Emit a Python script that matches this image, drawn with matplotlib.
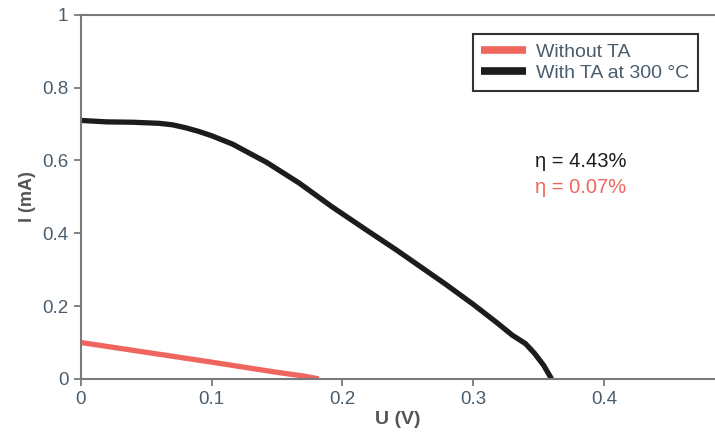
import matplotlib
matplotlib.use('Agg')
import matplotlib.pyplot as plt

# I-V curves
u_with_ta = [0.0, 0.02, 0.04, 0.06, 0.07, 0.08, 0.09, 0.1, 0.116, 0.13, 0.142, 0.167,
             0.192, 0.218, 0.241, 0.253, 0.279, 0.30, 0.318, 0.33, 0.34, 0.347, 0.354, 0.36]
i_with_ta = [0.71, 0.706, 0.705, 0.702, 0.698, 0.69, 0.68, 0.668, 0.645, 0.618, 0.595, 0.538,
             0.473, 0.41, 0.355, 0.325, 0.26, 0.205, 0.155, 0.12, 0.097, 0.07, 0.037, 0.0]
u_without_ta = [0.0, 0.05, 0.1, 0.15, 0.17, 0.182]
i_without_ta = [0.1, 0.073, 0.046, 0.018, 0.008, 0.0]

x_ticks = [0, 0.1, 0.2, 0.3, 0.4]
x_tick_labels = ['0', '0.1', '0.2', '0.3', '0.4']
y_ticks = [0, 0.2, 0.4, 0.6, 0.8, 1.0]
y_tick_labels = ['0', '0.2', '0.4', '0.6', '0.8', '1']

RED = '#f0665e'
BLACK = '#1c1c1c'
GREY = '#7a7a7a'
TICK_TEXT = '#4a5d6e'

plt.rcParams['font.family'] = ['Liberation Sans', 'DejaVu Sans']

fig = plt.figure(figsize=(7.15, 4.37), dpi=100)
ax = fig.add_axes([0.113, 0.133, 0.887, 0.833])

ax.plot(u_without_ta, i_without_ta, color=RED, linewidth=3.8, label='Without TA',
        solid_capstyle='butt')
ax.plot(u_with_ta, i_with_ta, color=BLACK, linewidth=3.8, label='With TA at 300 °C',
        solid_capstyle='butt', solid_joinstyle='round')

ax.set_xlim(0, 0.485)
ax.set_ylim(0, 1)
ax.set_xticks(x_ticks)
ax.set_xticklabels(x_tick_labels)
ax.set_yticks(y_ticks)
ax.set_yticklabels(y_tick_labels)

for side in ['left', 'bottom', 'top']:
    ax.spines[side].set_color(GREY)
    ax.spines[side].set_linewidth(1.5)
ax.spines['right'].set_visible(False)

ax.tick_params(direction='out', length=5, width=1.3, color=GREY,
               labelsize=13.5, labelcolor=TICK_TEXT, pad=4)

ax.set_xlabel('U (V)', fontsize=14, fontweight='bold', color='#555555', labelpad=2)
ax.set_ylabel('I (mA)', fontsize=13, fontweight='bold', color='#555555', labelpad=4)

leg = ax.legend(loc='upper left', bbox_to_anchor=(0.618, 0.947), fontsize=14,
                fancybox=False, framealpha=1, edgecolor='#333333', handlelength=2.3,
                borderpad=0.45, labelspacing=0.2, handletextpad=0.5, borderaxespad=0)
leg.get_frame().set_linewidth(1.5)
for line in leg.get_lines():
    line.set_linewidth(5.5)
for txt in leg.get_texts():
    txt.set_color(TICK_TEXT)

ax.text(0.347, 0.596, 'η = 4.43%', fontsize=14.5, color=BLACK, va='center')
ax.text(0.347, 0.525, 'η = 0.07%', fontsize=14.5, color=RED, va='center')

fig.savefig('out.png', dpi=100)
